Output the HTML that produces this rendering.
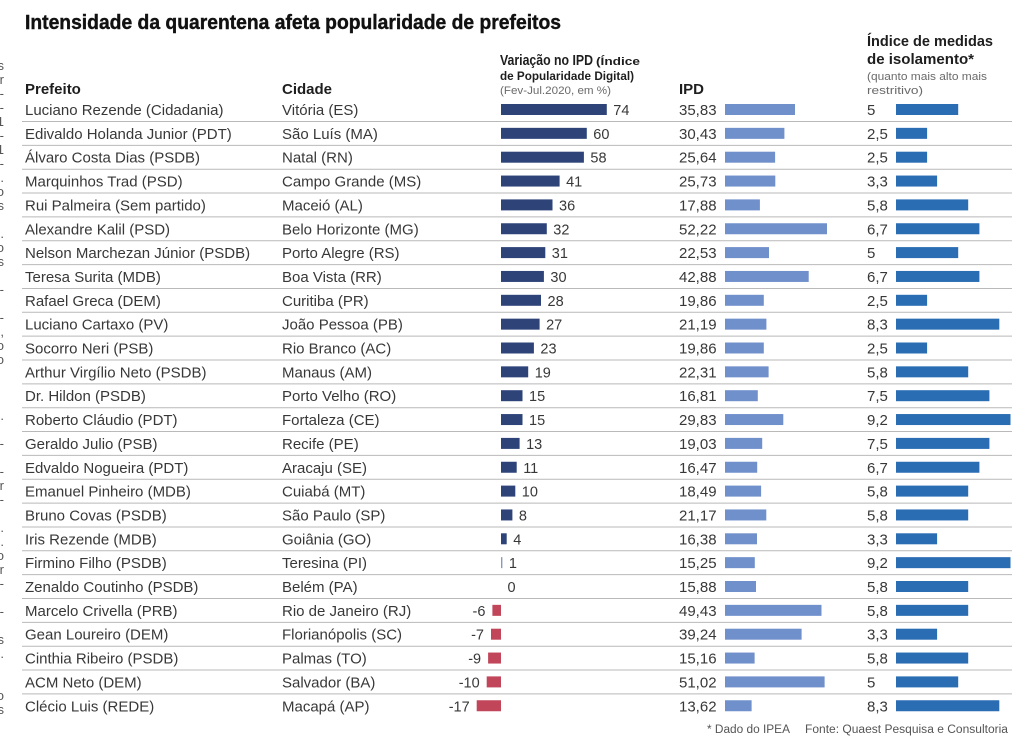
<!DOCTYPE html>
<html><head><meta charset="utf-8">
<style>
html,body{margin:0;padding:0;background:#fff;}
svg{display:block;}
text{font-family:"Liberation Sans",Arial,sans-serif;}
.t{font-size:15px;fill:#383838;}
.v{font-size:14.5px;fill:#383838;}
.b1{fill:#2e4479;}
.b2{fill:#7090cb;}
.b3{fill:#2a6db3;}
.neg{fill:#c1465a;}
.sep{stroke:#b9b9b9;stroke-width:1;}
.h{font-size:15px;font-weight:bold;fill:#1e1e1e;}
.s{font-size:11px;fill:#6a6a6a;}
.lf{font-size:13px;fill:#555;}
</style></head>
<body>
<svg width="1024" height="755" viewBox="0 0 1024 755" xmlns="http://www.w3.org/2000/svg">
<rect width="1024" height="755" fill="#fff"/>
<text x="25" y="29" font-size="20" font-weight="bold" fill="#111" stroke="#111" stroke-width="0.4" textLength="536" lengthAdjust="spacingAndGlyphs">Intensidade da quarentena afeta popularidade de prefeitos</text>

<!-- left edge fragments -->
<g class="lf" text-anchor="end">
<text x="4" y="70">s</text><text x="4" y="84">r</text><text x="4" y="98">-</text><text x="4" y="112">-</text>
<text x="4" y="126">1</text><text x="4" y="140">-</text><text x="4" y="154">1</text><text x="4" y="168">-</text>
<text x="4" y="182">.</text><text x="4" y="196">o</text><text x="4" y="210">s</text><text x="4" y="238">.</text>
<text x="4" y="252">o</text><text x="4" y="266">s</text><text x="4" y="294">-</text><text x="4" y="322">-</text>
<text x="4" y="336">,</text><text x="4" y="350">o</text><text x="4" y="364">o</text><text x="4" y="420">.</text>
<text x="4" y="448">-</text><text x="4" y="476">-</text><text x="4" y="490">r</text><text x="4" y="504">-</text>
<text x="4" y="532">.</text><text x="4" y="546">.</text><text x="4" y="560">o</text><text x="4" y="574">r</text>
<text x="4" y="588">-</text><text x="4" y="616">-</text><text x="4" y="644">s</text><text x="4" y="658">.</text>
<text x="4" y="700">o</text><text x="4" y="714">s</text>
</g>

<!-- headers -->
<text x="25" y="94" class="h">Prefeito</text>
<text x="282" y="94" class="h">Cidade</text>
<text x="500" y="65" class="h" textLength="93" lengthAdjust="spacingAndGlyphs">Variação no IPD</text>
<text x="596" y="65" font-size="11" font-weight="bold" fill="#1e1e1e" textLength="44" lengthAdjust="spacingAndGlyphs">(Índice</text>
<text x="500" y="80" font-size="11.5" font-weight="bold" fill="#1e1e1e" textLength="134" lengthAdjust="spacingAndGlyphs">de Popularidade Digital)</text>
<text x="500" y="94" class="s" textLength="111" lengthAdjust="spacingAndGlyphs">(Fev-Jul.2020, em %)</text>
<text x="679" y="94" class="h">IPD</text>
<text x="867" y="46" class="h" textLength="126" lengthAdjust="spacingAndGlyphs">Índice de medidas</text>
<text x="867" y="64" class="h" textLength="107" lengthAdjust="spacingAndGlyphs">de isolamento*</text>
<text x="867" y="80" class="s" textLength="120" lengthAdjust="spacingAndGlyphs">(quanto mais alto mais</text>
<text x="867" y="94" class="s" textLength="56" lengthAdjust="spacingAndGlyphs">restritivo)</text>

<!-- rows -->
<g transform="translate(0,115)">
<text x="25" class="t">Luciano Rezende (Cidadania)</text><text x="282" class="t">Vitória (ES)</text>
<rect x="501" y="-11" width="105.8" height="11" class="b1"/><text x="613.3" class="v">74</text>
<text x="679" class="t">35,83</text><rect x="725" y="-11" width="70" height="11" class="b2"/>
<text x="867" class="t">5</text><rect x="896" y="-11" width="62.2" height="11" class="b3"/>
<line x1="22" x2="1012" y1="6.5" y2="6.5" class="sep"/></g>

<g transform="translate(0,138.85)">
<text x="25" class="t">Edivaldo Holanda Junior (PDT)</text><text x="282" class="t">São Luís (MA)</text>
<rect x="501" y="-11" width="85.8" height="11" class="b1"/><text x="593.3" class="v">60</text>
<text x="679" class="t">30,43</text><rect x="725" y="-11" width="59.4" height="11" class="b2"/>
<text x="867" class="t">2,5</text><rect x="896" y="-11" width="31.1" height="11" class="b3"/>
<line x1="22" x2="1012" y1="6.5" y2="6.5" class="sep"/></g>

<g transform="translate(0,162.7)">
<text x="25" class="t">Álvaro Costa Dias (PSDB)</text><text x="282" class="t">Natal (RN)</text>
<rect x="501" y="-11" width="82.9" height="11" class="b1"/><text x="590.4" class="v">58</text>
<text x="679" class="t">25,64</text><rect x="725" y="-11" width="50.1" height="11" class="b2"/>
<text x="867" class="t">2,5</text><rect x="896" y="-11" width="31.1" height="11" class="b3"/>
<line x1="22" x2="1012" y1="6.5" y2="6.5" class="sep"/></g>

<g transform="translate(0,186.55)">
<text x="25" class="t">Marquinhos Trad (PSD)</text><text x="282" class="t">Campo Grande (MS)</text>
<rect x="501" y="-11" width="58.6" height="11" class="b1"/><text x="566.1" class="v">41</text>
<text x="679" class="t">25,73</text><rect x="725" y="-11" width="50.3" height="11" class="b2"/>
<text x="867" class="t">3,3</text><rect x="896" y="-11" width="41.1" height="11" class="b3"/>
<line x1="22" x2="1012" y1="6.5" y2="6.5" class="sep"/></g>

<g transform="translate(0,210.4)">
<text x="25" class="t">Rui Palmeira (Sem partido)</text><text x="282" class="t">Maceió (AL)</text>
<rect x="501" y="-11" width="51.5" height="11" class="b1"/><text x="559" class="v">36</text>
<text x="679" class="t">17,88</text><rect x="725" y="-11" width="34.9" height="11" class="b2"/>
<text x="867" class="t">5,8</text><rect x="896" y="-11" width="72.2" height="11" class="b3"/>
<line x1="22" x2="1012" y1="6.5" y2="6.5" class="sep"/></g>

<g transform="translate(0,234.25)">
<text x="25" class="t">Alexandre Kalil (PSD)</text><text x="282" class="t">Belo Horizonte (MG)</text>
<rect x="501" y="-11" width="45.8" height="11" class="b1"/><text x="553.3" class="v">32</text>
<text x="679" class="t">52,22</text><rect x="725" y="-11" width="102" height="11" class="b2"/>
<text x="867" class="t">6,7</text><rect x="896" y="-11" width="83.4" height="11" class="b3"/>
<line x1="22" x2="1012" y1="6.5" y2="6.5" class="sep"/></g>

<g transform="translate(0,258.1)">
<text x="25" class="t">Nelson Marchezan Júnior (PSDB)</text><text x="282" class="t">Porto Alegre (RS)</text>
<rect x="501" y="-11" width="44.3" height="11" class="b1"/><text x="551.8" class="v">31</text>
<text x="679" class="t">22,53</text><rect x="725" y="-11" width="44" height="11" class="b2"/>
<text x="867" class="t">5</text><rect x="896" y="-11" width="62.2" height="11" class="b3"/>
<line x1="22" x2="1012" y1="6.5" y2="6.5" class="sep"/></g>

<g transform="translate(0,281.95)">
<text x="25" class="t">Teresa Surita (MDB)</text><text x="282" class="t">Boa Vista (RR)</text>
<rect x="501" y="-11" width="42.9" height="11" class="b1"/><text x="550.4" class="v">30</text>
<text x="679" class="t">42,88</text><rect x="725" y="-11" width="83.7" height="11" class="b2"/>
<text x="867" class="t">6,7</text><rect x="896" y="-11" width="83.4" height="11" class="b3"/>
<line x1="22" x2="1012" y1="6.5" y2="6.5" class="sep"/></g>

<g transform="translate(0,305.8)">
<text x="25" class="t">Rafael Greca (DEM)</text><text x="282" class="t">Curitiba (PR)</text>
<rect x="501" y="-11" width="40" height="11" class="b1"/><text x="547.5" class="v">28</text>
<text x="679" class="t">19,86</text><rect x="725" y="-11" width="38.8" height="11" class="b2"/>
<text x="867" class="t">2,5</text><rect x="896" y="-11" width="31.1" height="11" class="b3"/>
<line x1="22" x2="1012" y1="6.5" y2="6.5" class="sep"/></g>

<g transform="translate(0,329.65)">
<text x="25" class="t">Luciano Cartaxo (PV)</text><text x="282" class="t">João Pessoa (PB)</text>
<rect x="501" y="-11" width="38.6" height="11" class="b1"/><text x="546.1" class="v">27</text>
<text x="679" class="t">21,19</text><rect x="725" y="-11" width="41.4" height="11" class="b2"/>
<text x="867" class="t">8,3</text><rect x="896" y="-11" width="103.3" height="11" class="b3"/>
<line x1="22" x2="1012" y1="6.5" y2="6.5" class="sep"/></g>

<g transform="translate(0,353.5)">
<text x="25" class="t">Socorro Neri (PSB)</text><text x="282" class="t">Rio Branco (AC)</text>
<rect x="501" y="-11" width="32.9" height="11" class="b1"/><text x="540.4" class="v">23</text>
<text x="679" class="t">19,86</text><rect x="725" y="-11" width="38.8" height="11" class="b2"/>
<text x="867" class="t">2,5</text><rect x="896" y="-11" width="31.1" height="11" class="b3"/>
<line x1="22" x2="1012" y1="6.5" y2="6.5" class="sep"/></g>

<g transform="translate(0,377.35)">
<text x="25" class="t">Arthur Virgílio Neto (PSDB)</text><text x="282" class="t">Manaus (AM)</text>
<rect x="501" y="-11" width="27.2" height="11" class="b1"/><text x="534.7" class="v">19</text>
<text x="679" class="t">22,31</text><rect x="725" y="-11" width="43.6" height="11" class="b2"/>
<text x="867" class="t">5,8</text><rect x="896" y="-11" width="72.2" height="11" class="b3"/>
<line x1="22" x2="1012" y1="6.5" y2="6.5" class="sep"/></g>

<g transform="translate(0,401.2)">
<text x="25" class="t">Dr. Hildon (PSDB)</text><text x="282" class="t">Porto Velho (RO)</text>
<rect x="501" y="-11" width="21.5" height="11" class="b1"/><text x="529" class="v">15</text>
<text x="679" class="t">16,81</text><rect x="725" y="-11" width="32.8" height="11" class="b2"/>
<text x="867" class="t">7,5</text><rect x="896" y="-11" width="93.4" height="11" class="b3"/>
<line x1="22" x2="1012" y1="6.5" y2="6.5" class="sep"/></g>

<g transform="translate(0,425.05)">
<text x="25" class="t">Roberto Cláudio (PDT)</text><text x="282" class="t">Fortaleza (CE)</text>
<rect x="501" y="-11" width="21.5" height="11" class="b1"/><text x="529" class="v">15</text>
<text x="679" class="t">29,83</text><rect x="725" y="-11" width="58.3" height="11" class="b2"/>
<text x="867" class="t">9,2</text><rect x="896" y="-11" width="114.5" height="11" class="b3"/>
<line x1="22" x2="1012" y1="6.5" y2="6.5" class="sep"/></g>

<g transform="translate(0,448.9)">
<text x="25" class="t">Geraldo Julio (PSB)</text><text x="282" class="t">Recife (PE)</text>
<rect x="501" y="-11" width="18.6" height="11" class="b1"/><text x="526.1" class="v">13</text>
<text x="679" class="t">19,03</text><rect x="725" y="-11" width="37.2" height="11" class="b2"/>
<text x="867" class="t">7,5</text><rect x="896" y="-11" width="93.4" height="11" class="b3"/>
<line x1="22" x2="1012" y1="6.5" y2="6.5" class="sep"/></g>

<g transform="translate(0,472.75)">
<text x="25" class="t">Edvaldo Nogueira (PDT)</text><text x="282" class="t">Aracaju (SE)</text>
<rect x="501" y="-11" width="15.7" height="11" class="b1"/><text x="523.2" class="v">11</text>
<text x="679" class="t">16,47</text><rect x="725" y="-11" width="32.2" height="11" class="b2"/>
<text x="867" class="t">6,7</text><rect x="896" y="-11" width="83.4" height="11" class="b3"/>
<line x1="22" x2="1012" y1="6.5" y2="6.5" class="sep"/></g>

<g transform="translate(0,496.6)">
<text x="25" class="t">Emanuel Pinheiro (MDB)</text><text x="282" class="t">Cuiabá (MT)</text>
<rect x="501" y="-11" width="14.3" height="11" class="b1"/><text x="521.8" class="v">10</text>
<text x="679" class="t">18,49</text><rect x="725" y="-11" width="36.1" height="11" class="b2"/>
<text x="867" class="t">5,8</text><rect x="896" y="-11" width="72.2" height="11" class="b3"/>
<line x1="22" x2="1012" y1="6.5" y2="6.5" class="sep"/></g>

<g transform="translate(0,520.45)">
<text x="25" class="t">Bruno Covas (PSDB)</text><text x="282" class="t">São Paulo (SP)</text>
<rect x="501" y="-11" width="11.4" height="11" class="b1"/><text x="518.9" class="v">8</text>
<text x="679" class="t">21,17</text><rect x="725" y="-11" width="41.3" height="11" class="b2"/>
<text x="867" class="t">5,8</text><rect x="896" y="-11" width="72.2" height="11" class="b3"/>
<line x1="22" x2="1012" y1="6.5" y2="6.5" class="sep"/></g>

<g transform="translate(0,544.3)">
<text x="25" class="t">Iris Rezende (MDB)</text><text x="282" class="t">Goiânia (GO)</text>
<rect x="501" y="-11" width="5.7" height="11" class="b1"/><text x="513.2" class="v">4</text>
<text x="679" class="t">16,38</text><rect x="725" y="-11" width="32" height="11" class="b2"/>
<text x="867" class="t">3,3</text><rect x="896" y="-11" width="41.1" height="11" class="b3"/>
<line x1="22" x2="1012" y1="6.5" y2="6.5" class="sep"/></g>

<g transform="translate(0,568.15)">
<text x="25" class="t">Firmino Filho (PSDB)</text><text x="282" class="t">Teresina (PI)</text>
<rect x="501" y="-11" width="1.4" height="11" fill="#8a98bb"/><text x="508.9" class="v">1</text>
<text x="679" class="t">15,25</text><rect x="725" y="-11" width="29.8" height="11" class="b2"/>
<text x="867" class="t">9,2</text><rect x="896" y="-11" width="114.5" height="11" class="b3"/>
<line x1="22" x2="1012" y1="6.5" y2="6.5" class="sep"/></g>

<g transform="translate(0,592)">
<text x="25" class="t">Zenaldo Coutinho (PSDB)</text><text x="282" class="t">Belém (PA)</text>
<text x="507.5" class="v">0</text>
<text x="679" class="t">15,88</text><rect x="725" y="-11" width="31" height="11" class="b2"/>
<text x="867" class="t">5,8</text><rect x="896" y="-11" width="72.2" height="11" class="b3"/>
<line x1="22" x2="1012" y1="6.5" y2="6.5" class="sep"/></g>

<g transform="translate(0,615.85)">
<text x="25" class="t">Marcelo Crivella (PRB)</text><text x="282" class="t">Rio de Janeiro (RJ)</text>
<rect x="492.4" y="-11" width="8.6" height="11" class="neg"/><text x="485.4" class="v" text-anchor="end">-6</text>
<text x="679" class="t">49,43</text><rect x="725" y="-11" width="96.5" height="11" class="b2"/>
<text x="867" class="t">5,8</text><rect x="896" y="-11" width="72.2" height="11" class="b3"/>
<line x1="22" x2="1012" y1="6.5" y2="6.5" class="sep"/></g>

<g transform="translate(0,639.7)">
<text x="25" class="t">Gean Loureiro (DEM)</text><text x="282" class="t">Florianópolis (SC)</text>
<rect x="491" y="-11" width="10" height="11" class="neg"/><text x="484" class="v" text-anchor="end">-7</text>
<text x="679" class="t">39,24</text><rect x="725" y="-11" width="76.6" height="11" class="b2"/>
<text x="867" class="t">3,3</text><rect x="896" y="-11" width="41.1" height="11" class="b3"/>
<line x1="22" x2="1012" y1="6.5" y2="6.5" class="sep"/></g>

<g transform="translate(0,663.55)">
<text x="25" class="t">Cinthia Ribeiro (PSDB)</text><text x="282" class="t">Palmas (TO)</text>
<rect x="488.1" y="-11" width="12.9" height="11" class="neg"/><text x="481.1" class="v" text-anchor="end">-9</text>
<text x="679" class="t">15,16</text><rect x="725" y="-11" width="29.6" height="11" class="b2"/>
<text x="867" class="t">5,8</text><rect x="896" y="-11" width="72.2" height="11" class="b3"/>
<line x1="22" x2="1012" y1="6.5" y2="6.5" class="sep"/></g>

<g transform="translate(0,687.4)">
<text x="25" class="t">ACM Neto (DEM)</text><text x="282" class="t">Salvador (BA)</text>
<rect x="486.7" y="-11" width="14.3" height="11" class="neg"/><text x="479.7" class="v" text-anchor="end">-10</text>
<text x="679" class="t">51,02</text><rect x="725" y="-11" width="99.6" height="11" class="b2"/>
<text x="867" class="t">5</text><rect x="896" y="-11" width="62.2" height="11" class="b3"/>
<line x1="22" x2="1012" y1="6.5" y2="6.5" class="sep"/></g>

<g transform="translate(0,711.25)">
<text x="25" class="t">Clécio Luis (REDE)</text><text x="282" class="t">Macapá (AP)</text>
<rect x="476.7" y="-11" width="24.3" height="11" class="neg"/><text x="469.7" class="v" text-anchor="end">-17</text>
<text x="679" class="t">13,62</text><rect x="725" y="-11" width="26.6" height="11" class="b2"/>
<text x="867" class="t">8,3</text><rect x="896" y="-11" width="103.3" height="11" class="b3"/>
</g>

<!-- footer -->
<text x="707" y="733" font-size="11.5" fill="#555" textLength="83" lengthAdjust="spacingAndGlyphs">* Dado do IPEA</text>
<text x="805" y="733" font-size="11.5" fill="#555" textLength="203" lengthAdjust="spacingAndGlyphs">Fonte: Quaest Pesquisa e Consultoria</text>
</svg>
</body></html>
